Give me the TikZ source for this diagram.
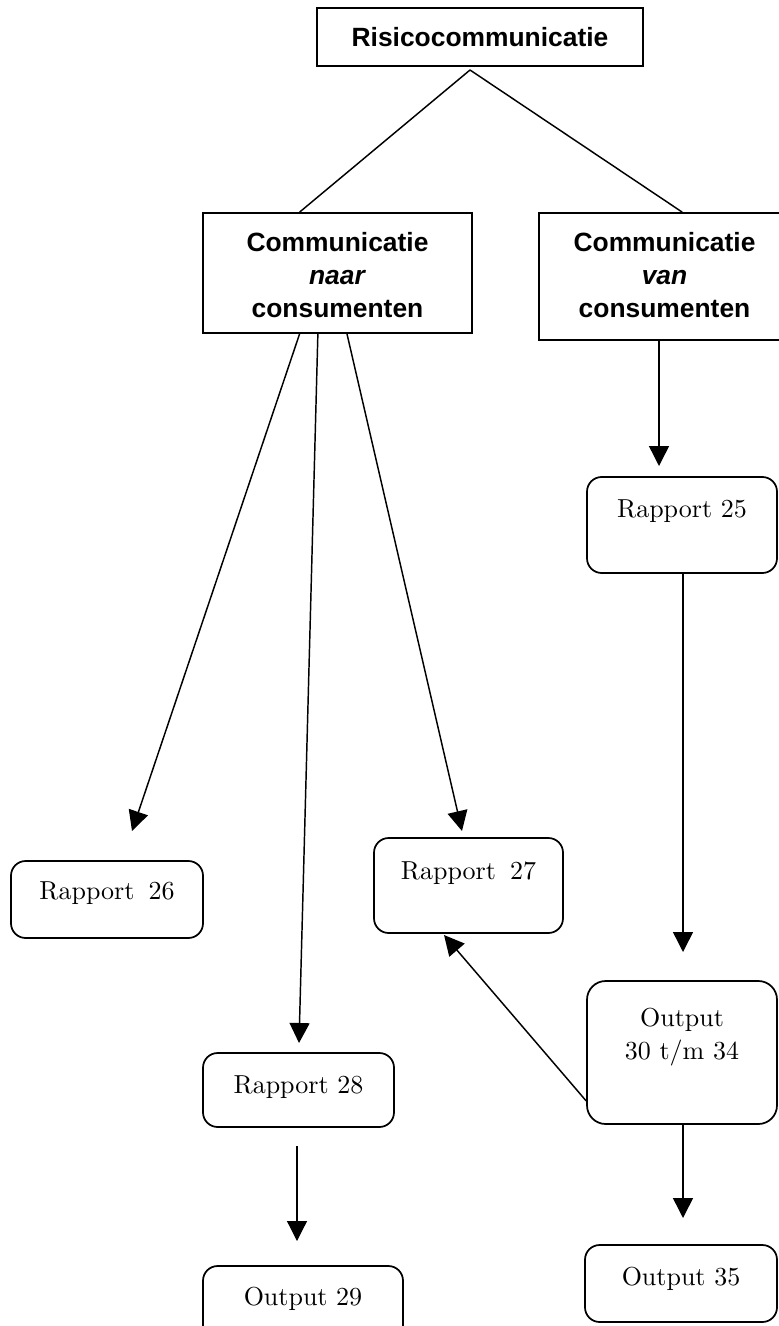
\documentclass[tikz,border=0pt]{standalone}
\usepackage{fontspec}
\newfontfamily\arialfont{Liberation Sans}
\newfontfamily\lmten{lmroman10-regular}[Extension=.otf]
\usetikzlibrary{arrows.meta,calc}
\begin{document}
\begin{tikzpicture}[x=0.75pt,y=-0.75pt,
  sbox/.style={draw, line width=1.3pt, rectangle, inner sep=0pt, align=center,
    font=\arialfont\bfseries\fontsize{19.8pt}{24.75pt}\selectfont},
  rbox/.style={draw, line width=1.3pt, rectangle, rounded corners=11pt, inner sep=0pt, align=center,
    font=\lmten\fontsize{19.5pt}{24.75pt}\selectfont},
  conn/.style={line width=1.1pt},
  arr/.style={line width=1.1pt, -{Triangle[length=15pt,width=15pt]}},
  thinarr/.style={line width=0.9pt, -{Triangle[length=15pt,width=15pt]}}]

\useasboundingbox (0,0) rectangle (778,1326);

% boxes
\node[sbox, minimum width=244.5pt, minimum height=43.5pt] (top) at (480,37) {Risicocommunicatie};
\node[sbox, minimum width=201.75pt, minimum height=90pt, text height=68.5pt, text depth=1pt] (L) at (337.5,273)
  {Communicatie\\\textit{naar}\\consumenten};
\node[sbox, minimum width=188.25pt, minimum height=95.25pt, text height=63.25pt, text depth=1pt] (R) at (664.5,276.5)
  {Communicatie\\\textit{van}\\consumenten};

\node[rbox, minimum width=142.5pt, minimum height=72pt, text height=14pt, text depth=26pt] (r25) at (682,525) {Rapport 25};
\node[rbox, minimum width=144pt, minimum height=57.75pt, text height=14pt, text depth=14pt] (r26) at (107,899.5) {Rapport\hspace{0.54em}26};
\node[rbox, minimum width=141.75pt, minimum height=71.25pt, text height=14pt, text depth=23.75pt] (r27) at (468.5,885.5) {Rapport\hspace{0.54em}27};
\node[rbox, minimum width=143.25pt, minimum height=55.5pt, text height=14pt, text depth=9.5pt] (r28) at (298.5,1090) {Rapport 28};
\node[rbox, minimum width=150pt, minimum height=55.5pt, text height=14pt, text depth=11pt] (o29) at (303,1303) {Output 29};
\node[rbox, rounded corners=14pt, minimum width=142.5pt, minimum height=107.25pt, text height=14pt, text depth=4.25pt] (out) at (682,1052.5) {Output\\30 t/m 34};
\node[rbox, minimum width=144pt, minimum height=57.75pt, text height=14pt, text depth=11.75pt] (o35) at (681,1283.5) {Output 35};

% free ends
\coordinate (apex) at (470,70);
\coordinate (t26) at (132,831);
\coordinate (t27) at (462,831);
\coordinate (t28) at (299,1043);
\coordinate (t25) at (659,466);
\coordinate (tout) at (683,952);
\coordinate (t35) at (683,1218);
\coordinate (t27b) at (444,935);
\coordinate (s29) at (297,1146);
\coordinate (t29) at (297,1241);

% connectors
\draw[conn] (apex) -- ($(L.north west)!0.36!(L.north east)$);
\draw[conn] (apex) -- ($(R.north west)!0.57!(R.north east)$);
\draw[arr] ($(L.south west)!0.36!(L.south east)$) -- (t26);
\draw[arr] ($(L.south west)!0.4275!(L.south east)$) -- (t28);
\draw[arr] ($(L.south west)!0.535!(L.south east)$) -- (t27);
\draw[arr] (R.south -| t25) -- (t25);
\draw[arr] (r25.south -| tout) -- (tout);
\draw[arr] (out.south -| t35) -- (t35);
\draw[arr] ($(out.south west)+(0,-24)$) -- (t27b);
\draw[thinarr] (s29) -- (t29);
\end{tikzpicture}
\end{document}
